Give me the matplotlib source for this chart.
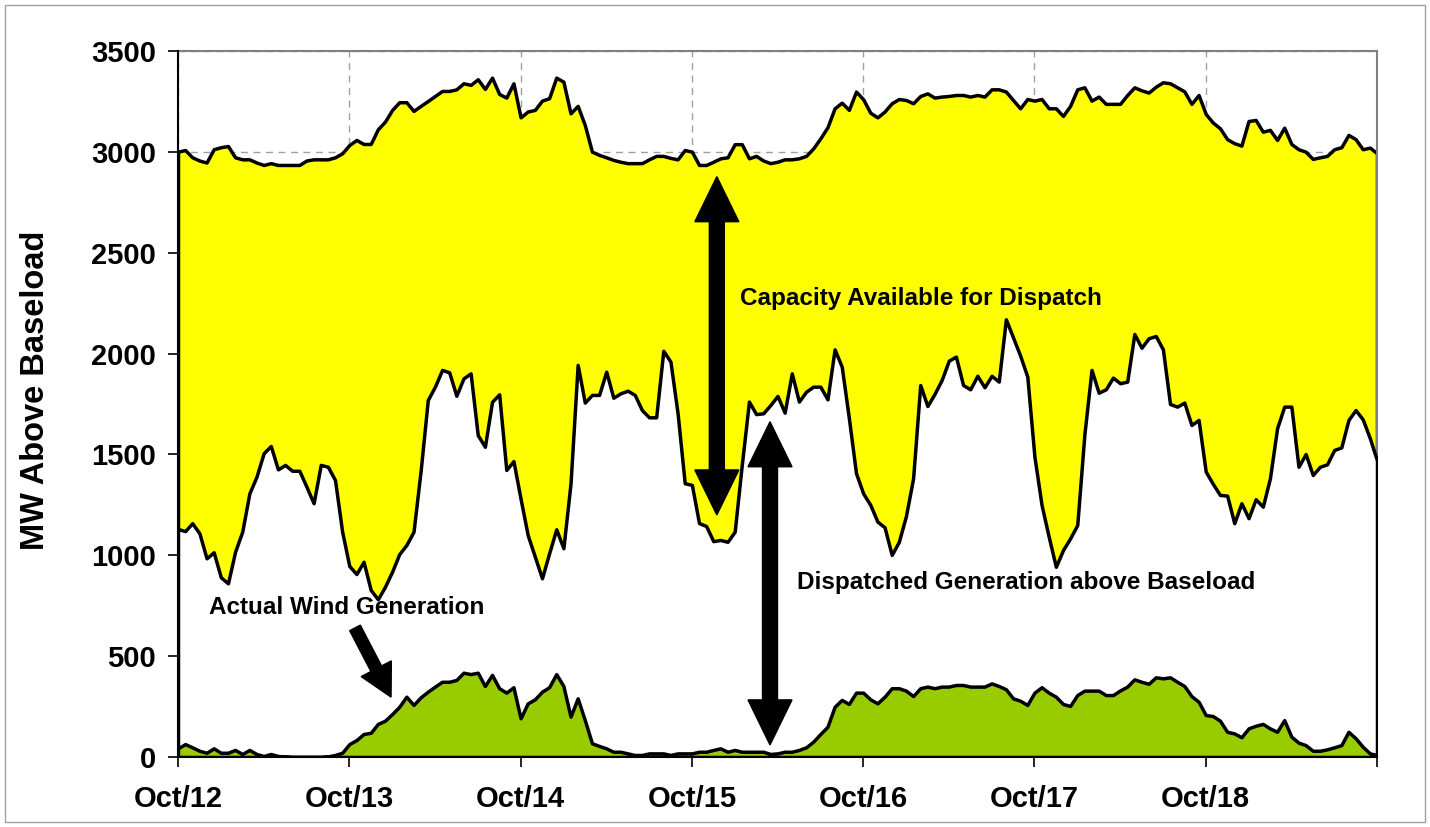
import numpy as np
import matplotlib
matplotlib.use("Agg")
import matplotlib.pyplot as plt
from matplotlib.patches import Polygon, FancyArrow, Rectangle
from matplotlib.transforms import IdentityTransform

plt.rcParams['font.family'] = ['Liberation Sans', 'DejaVu Sans']

# ---------------- data (hourly, 12-18 Oct) ----------------
day_labels = ["Oct/12", "Oct/13", "Oct/14", "Oct/15", "Oct/16", "Oct/17", "Oct/18", ""]

capacity = [
    3001, 3009, 2973, 2957, 2947, 3013, 3023, 3029, 2973, 2963,
    2963, 2947, 2935, 2944, 2935, 2935, 2935, 2935, 2957, 2963,
    2963, 2963, 2973, 2993, 3034, 3059, 3039, 3039, 3112, 3150,
    3208, 3246, 3246, 3203, 3228, 3252, 3277, 3302, 3302, 3310,
    3340, 3332, 3360, 3312, 3368, 3287, 3269, 3340, 3171, 3200,
    3208, 3254, 3266, 3368, 3348, 3191, 3228, 3133, 3001, 2985,
    2973, 2960, 2951, 2944, 2944, 2944, 2963, 2980, 2980, 2970,
    2963, 3009, 3001, 2935, 2935, 2951, 2968, 2973, 3038, 3038,
    2968, 2980, 2957, 2944, 2951, 2963, 2963, 2968, 2980, 3017,
    3067, 3122, 3216, 3244, 3208, 3299, 3261, 3194, 3171, 3200,
    3241, 3262, 3257, 3241, 3277, 3290, 3269, 3274, 3277, 3282,
    3282, 3274, 3282, 3274, 3310, 3310, 3299, 3257, 3216, 3262,
    3254, 3262, 3216, 3216, 3178, 3228, 3310, 3320, 3254, 3274,
    3238, 3238, 3238, 3282, 3320, 3305, 3294, 3323, 3345, 3340,
    3320, 3300, 3238, 3282, 3188, 3145, 3117, 3063, 3043, 3031,
    3153, 3158, 3100, 3109, 3059, 3120, 3039, 3013, 3001, 2965,
    2973, 2980, 3013, 3023, 3084, 3063, 3013, 3021, 2993]

dispatched = [
    1130, 1120, 1159, 1109, 985, 1015, 891, 861, 1018, 1117,
    1307, 1390, 1506, 1542, 1426, 1448, 1419, 1419, 1340, 1258,
    1448, 1439, 1373, 1117, 947, 907, 968, 828, 782, 844,
    919, 1006, 1051, 1117, 1420, 1770, 1836, 1919, 1907, 1791,
    1877, 1902, 1596, 1538, 1761, 1798, 1423, 1467, 1280, 1100,
    993, 886, 1010, 1129, 1035, 1357, 1944, 1757, 1795, 1795,
    1910, 1781, 1803, 1816, 1795, 1720, 1684, 1684, 2014, 1960,
    1704, 1357, 1349, 1160, 1145, 1070, 1076, 1067, 1117, 1450,
    1762, 1700, 1704, 1745, 1790, 1707, 1902, 1762, 1811, 1836,
    1836, 1773, 2021, 1935, 1680, 1407, 1307, 1250, 1167, 1139,
    1002, 1067, 1195, 1382, 1844, 1740, 1800, 1869, 1965, 1985,
    1844, 1823, 1890, 1833, 1890, 1861, 2170, 2080, 1990, 1886,
    1489, 1249, 1092, 943, 1026, 1084, 1150, 1600, 1919, 1806,
    1823, 1881, 1853, 1861, 2097, 2029, 2076, 2087, 2021, 1750,
    1737, 1757, 1646, 1671, 1415, 1354, 1299, 1296, 1159, 1258,
    1184, 1278, 1241, 1382, 1630, 1737, 1737, 1439, 1502, 1398,
    1439, 1451, 1522, 1535, 1671, 1720, 1674, 1580, 1470]

wind = [
    43, 64, 48, 31, 21, 43, 21, 21, 35, 15,
    35, 15, 5, 15, 5, 3, 0, 0, 0, 0,
    0, 3, 10, 21, 64, 84, 114, 120, 164, 180,
    213, 249, 299, 258, 296, 324, 349, 373, 373, 382,
    418, 411, 418, 352, 407, 341, 319, 346, 192, 266,
    286, 324, 346, 411, 352, 200, 291, 183, 68, 55,
    43, 26, 26, 18, 10, 10, 18, 18, 18, 10,
    18, 18, 18, 26, 26, 35, 43, 26, 35, 26,
    26, 26, 26, 15, 18, 26, 26, 35, 48, 76,
    114, 150, 249, 283, 263, 319, 319, 286, 266, 299,
    341, 341, 329, 302, 341, 349, 341, 349, 349, 357,
    357, 349, 349, 349, 365, 352, 336, 291, 279, 258,
    319, 346, 319, 299, 263, 253, 307, 329, 329, 329,
    307, 307, 330, 349, 385, 373, 363, 395, 390, 395,
    373, 352, 302, 274, 208, 203, 180, 125, 117, 98,
    142, 155, 164, 142, 125, 183, 101, 71, 59, 31,
    31, 38, 48, 59, 125, 93, 51, 18, 10]

hours = np.arange(len(capacity))
y_ticks = [0, 500, 1000, 1500, 2000, 2500, 3000, 3500]

# ---------------- figure ----------------
W, H = 1430, 827
fig = plt.figure(figsize=(W / 100, H / 100), dpi=100)
fig.patches.append(Rectangle((5 / W, 5 / H), 1420 / W, 817 / H, transform=fig.transFigure,
                             fill=False, edgecolor='#a0a0a0', lw=1.0))

ax = fig.add_axes([178 / W, (H - 757) / H, (1377 - 178) / W, (757 - 51) / H])
ax.set_xlim(0, 168)
ax.set_ylim(0, 3500)

ax.set_axisbelow(True)
ax.grid(True, color='#a0a0a0', linestyle=(0, (5, 4)), linewidth=1.0, zorder=0)

lw = 2.5
ax.fill_between(hours, 0, capacity, facecolor='#FFFF00', edgecolor='black', linewidth=lw, zorder=2)
ax.fill_between(hours, 0, dispatched, facecolor='white', edgecolor='black', linewidth=lw, zorder=3)
ax.fill_between(hours, 0, wind, facecolor='#99CC00', edgecolor='black', linewidth=lw, zorder=4)

ax.set_xticks(np.arange(0, 169, 24))
ax.set_xticklabels(day_labels)
ax.set_yticks(y_ticks)
ax.set_yticklabels([str(v) for v in y_ticks])
for lab in ax.get_xticklabels() + ax.get_yticklabels():
    lab.set_fontweight('bold')
    lab.set_fontsize(21)
ax.tick_params(axis='both', direction='out', length=7, width=1.2, color='black')
ax.tick_params(axis='y', pad=9)
ax.tick_params(axis='x', pad=13)

for s in ['left', 'bottom']:
    ax.spines[s].set_color('black')
    ax.spines[s].set_linewidth(1.5)
for s in ['top', 'right']:
    ax.spines[s].set_color('#808080')
    ax.spines[s].set_linewidth(1.5)
ax.spines['left'].set_zorder(6)
ax.spines['bottom'].set_zorder(6)

fig.text(36 / W, (H - 390) / H, 'MW Above Baseload', rotation=90, ha='center', va='center',
         fontsize=23.5, fontweight='bold')

# ---------------- annotations ----------------
def to_disp(x, y):
    return ax.transData.transform((x, y))


def double_arrow(x, y_top, y_bot, shaft=15, head_w=44, head_l=45):
    cx, yt = to_disp(x, y_top)
    _, yb = to_disp(x, y_bot)
    sw, hw = shaft / 2, head_w / 2
    pts = [(cx, yt), (cx + hw, yt - head_l), (cx + sw, yt - head_l), (cx + sw, yb + head_l),
           (cx + hw, yb + head_l), (cx, yb), (cx - hw, yb + head_l), (cx - sw, yb + head_l),
           (cx - sw, yt - head_l), (cx - hw, yt - head_l)]
    ax.add_patch(Polygon(pts, closed=True, facecolor='black', edgecolor='black',
                         transform=IdentityTransform(), clip_on=False, zorder=7))


double_arrow(75.5, 2877, 1200)
double_arrow(82.95, 1662, 60)

x0, y0 = to_disp(24.8, 640)
x1, y1 = to_disp(29.85, 297)
ax.add_patch(FancyArrow(x0, y0, x1 - x0, y1 - y0, width=12, head_width=34, head_length=32,
                        length_includes_head=True, facecolor='black', edgecolor='black',
                        transform=IdentityTransform(), clip_on=False, zorder=7))

ax.text(78.8, 2271, 'Capacity Available for Dispatch', fontsize=17.5, fontweight='bold',
        ha='left', va='center', zorder=8)
ax.text(86.7, 863, 'Dispatched Generation above Baseload', fontsize=17.5, fontweight='bold',
        ha='left', va='center', zorder=8)
ax.text(4.3, 739, 'Actual Wind Generation', fontsize=17.5, fontweight='bold',
        ha='left', va='center', zorder=8)

fig.savefig('out.png', dpi=100)
